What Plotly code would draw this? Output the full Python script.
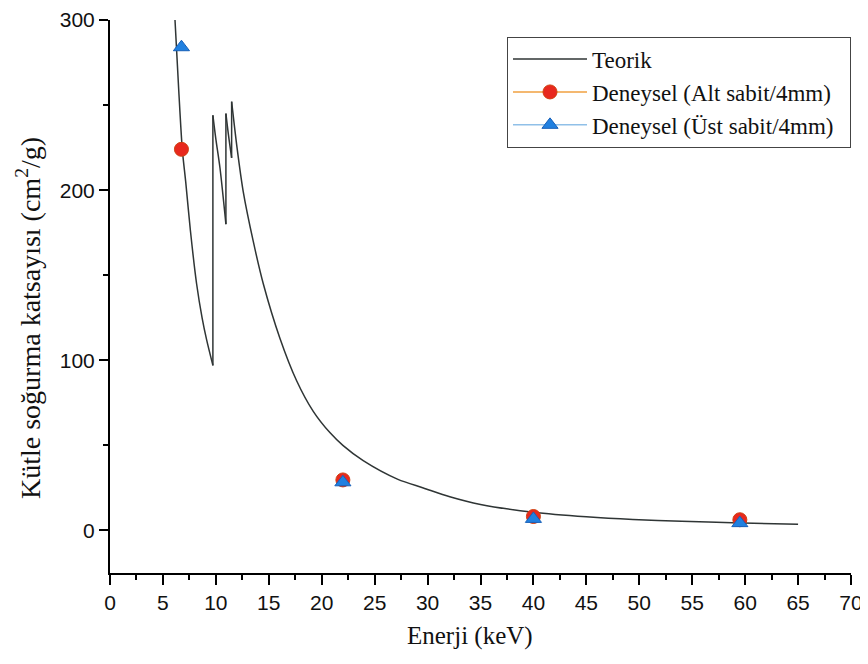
import plotly.graph_objects as go

# Theoretical curve; None separates smooth pieces from the absorption-edge jumps
teorik_E = [6.14, 6.5, 6.83, 7.15, 7.6, 8.18, 8.7, 9.13, 9.72, None,
            9.72, 9.72, None,
            9.72, 10.0, 10.39, 10.95, None,
            10.95, 10.95, None,
            10.95, 11.2, 11.49, None,
            11.49, 11.49, None,
            11.49, 12.0, 12.59, 13.53, 14.48, 16.05, 17.63, 19.2, 20.77,
            22.0, 23.92, 27.2, 29.6, 32.1, 35.0, 40.0, 45.0, 49.4, 54.0, 58.8, 65.0]
teorik_mu = [300, 258, 224, 205, 176, 145, 125, 112, 97, None,
             97, 244, None,
             244, 230, 213, 180, None,
             180, 245, None,
             245, 232, 219, None,
             219, 252, None,
             252, 225, 199, 170, 145, 113, 88, 70, 57.5,
             50, 41, 30, 25, 19.8, 15.3, 10.7, 8.0, 6.4, 5.4, 4.5, 3.6]

# Experimental
deney_E = [6.75, 22.0, 40.0, 59.5]
alt_sabit = [224, 29.7, 8.2, 6.3]
ust_sabit = [284, 28.3, 6.8, 4.3]

x_ticks = list(range(0, 71, 5))
y_ticks = [0, 100, 200, 300]

legend_names = ["Teorik", "Deneysel (Alt sabit/4mm)", "Deneysel (Üst sabit/4mm)"]

serif = "Liberation Serif, Times New Roman, serif"
sans = "Liberation Sans, Arial, sans-serif"
pad = "\u00a0\u00a0"  # right padding inside the legend box

fig = go.Figure()

fig.add_trace(go.Scatter(x=teorik_E, y=teorik_mu, mode="lines", name=legend_names[0],
                         connectgaps=False,
                         line=dict(color="#2f3535", width=1.5, shape="spline", smoothing=0.8)))

fig.add_trace(go.Scatter(x=deney_E, y=alt_sabit, mode="markers", showlegend=False,
                         marker=dict(symbol="circle", size=14, color="#e8281e",
                                     line=dict(color="#d04010", width=1))))
fig.add_trace(go.Scatter(x=deney_E, y=ust_sabit, mode="markers", showlegend=False,
                         marker=dict(symbol="triangle-up", size=14, color="#2080e0",
                                     line=dict(color="#1860b8", width=1))))

# legend entries (line + marker, as in the original legend)
fig.add_trace(go.Scatter(x=[None], y=[None], mode="lines+markers",
                         name=legend_names[1] + pad,
                         line=dict(color="#f0a040", width=1.5),
                         marker=dict(symbol="circle", size=14, color="#e8281e",
                                     line=dict(color="#d04010", width=1))))
fig.add_trace(go.Scatter(x=[None], y=[None], mode="lines+markers",
                         name=legend_names[2] + pad,
                         line=dict(color="#90c0e8", width=1.5),
                         marker=dict(symbol="triangle-up", size=14, color="#2080e0",
                                     line=dict(color="#1860b8", width=1))))

fig.update_layout(
    width=860, height=656,
    margin=dict(l=102, r=17, t=12, b=91, autoexpand=False),
    paper_bgcolor="white", plot_bgcolor="white",
    showlegend=True,
    legend=dict(x=1.0, xanchor="right", y=0.97, yanchor="top",
                bgcolor="white", bordercolor="#444", borderwidth=1,
                font=dict(family=serif, size=23, color="#111"),
                itemwidth=74, tracegroupgap=0),
    xaxis=dict(range=[0, 70], tickmode="array", tickvals=x_ticks,
               ticks="outside", ticklen=10, tickwidth=2, tickcolor="black",
               showline=True, linecolor="black", linewidth=2,
               showgrid=False, zeroline=False,
               minor=dict(ticks="outside", ticklen=5, tickwidth=2, tickcolor="black", dtick=2.5, showgrid=False),
               tickfont=dict(family=sans, size=21, color="#111"),
               ticklabeloverflow="allow"),
    yaxis=dict(range=[-25, 300], tickmode="array", tickvals=y_ticks,
               ticks="outside", ticklen=9, tickwidth=2, tickcolor="black",
               showline=True, linecolor="black", linewidth=2,
               showgrid=False, zeroline=False,
               minor=dict(ticks="outside", ticklen=5, tickwidth=2, tickcolor="black", dtick=50, showgrid=False),
               tickfont=dict(family=sans, size=21, color="#111"),
               ticklabeloverflow="allow"),
    annotations=[
        dict(text="Enerji (keV)", xref="paper", yref="paper",
             x=(470 - 110) / 741, y=-(636 - 573) / 553, xanchor="center", yanchor="middle",
             showarrow=False, font=dict(family=serif, size=25, color="#111")),
        dict(text="Kütle soğurma katsayısı (cm<sup>2</sup>/g)", xref="paper", yref="paper",
             x=-(110 - 28) / 741, y=(573 - 318) / 553, xanchor="center", yanchor="middle",
             textangle=-90, showarrow=False, font=dict(family=serif, size=28, color="#111")),
    ],
)

fig.write_html("out.html")
